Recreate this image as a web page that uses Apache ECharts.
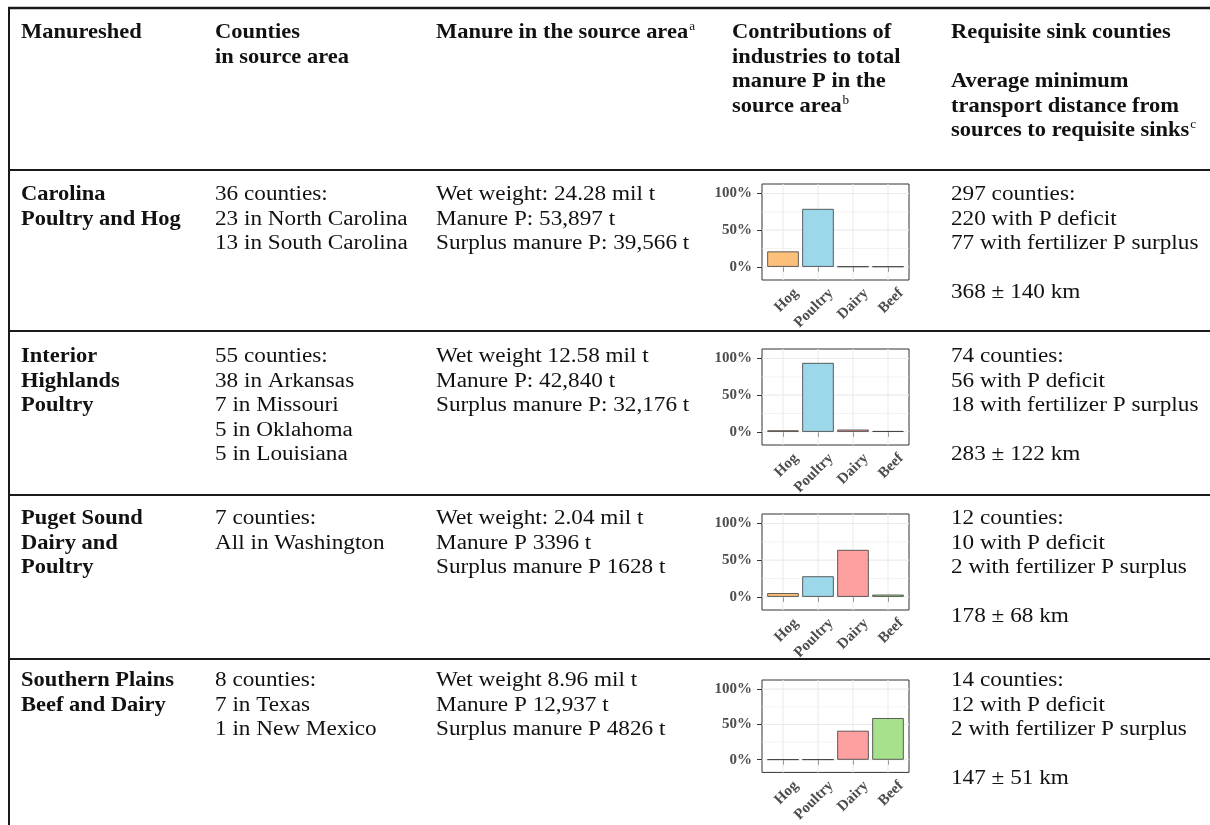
<!DOCTYPE html>
<html><head><meta charset="utf-8">
<script src="https://cdn.jsdelivr.net/npm/echarts@6/dist/echarts.min.js"></script>
<style>html,body{margin:0;padding:0;background:#fff}#c{width:1210px;height:825px}</style>
</head><body><div id="c"></div>
<script>
// ---------- data ----------
const industries = ['Hog', 'Poultry', 'Dairy', 'Beef'];
const industryColors = ['#FDC07A', '#9DD7EA', '#FFA0A0', '#A8E18C'];

const headerManureshed = ['Manureshed'];
const headerCounties = ['Counties', 'in source area'];
const headerManure = ['Manure in the source area'];
const headerContrib = ['Contributions of', 'industries to total', 'manure P in the', 'source area'];
const headerSinks = ['Requisite sink counties', '', 'Average minimum', 'transport distance from', 'sources to requisite sinks'];

const manuresheds = [
  ['Carolina', 'Poultry and Hog'],
  ['Interior', 'Highlands', 'Poultry'],
  ['Puget Sound', 'Dairy and', 'Poultry'],
  ['Southern Plains', 'Beef and Dairy']
];
const sourceCounties = [
  ['36 counties:', '23 in North Carolina', '13 in South Carolina'],
  ['55 counties:', '38 in Arkansas', '7 in Missouri', '5 in Oklahoma', '5 in Louisiana'],
  ['7 counties:', 'All in Washington'],
  ['8 counties:', '7 in Texas', '1 in New Mexico']
];
const manureInSource = [
  ['Wet weight: 24.28 mil t', 'Manure P: 53,897 t', 'Surplus manure P: 39,566 t'],
  ['Wet weight 12.58 mil t', 'Manure P: 42,840 t', 'Surplus manure P: 32,176 t'],
  ['Wet weight: 2.04 mil t', 'Manure P 3396 t', 'Surplus manure P 1628 t'],
  ['Wet weight 8.96 mil t', 'Manure P 12,937 t', 'Surplus manure P 4826 t']
];
const sinkCounties = [
  ['297 counties:', '220 with P deficit', '77 with fertilizer P surplus', '', '368 \u00b1 140 km'],
  ['74 counties:', '56 with P deficit', '18 with fertilizer P surplus', '', '283 \u00b1 122 km'],
  ['12 counties:', '10 with P deficit', '2 with fertilizer P surplus', '', '178 \u00b1 68 km'],
  ['14 counties:', '12 with P deficit', '2 with fertilizer P surplus', '', '147 \u00b1 51 km']
];
// share of total manure P (%) per manureshed row
const shareHog     = [21, 2, 5, 0.3];
const sharePoultry = [79, 94, 28, 0.3];
const shareDairy   = [0.3, 3, 64, 41];
const shareBeef    = [0.3, 1, 3, 59];
const yTickValues = [0, 50, 100];
const yGridValues = [0, 25, 50, 75, 100];

// ---------- layout ----------
const shares = [shareHog, sharePoultry, shareDairy, shareBeef];
const colX = [21, 215, 436, 732, 951];
const lineY = [8, 170, 331, 495, 659];
const firstOffset = [32, 32, 33, 31, 29];
const LH = 24.5;
const gridTops = [184, 349, 514, 680];
const X_MIN = 0.4, X_MAX = 4.6, Y_MIN = -18, Y_MAX = 113;
const labelShift = 0.37;

const mctx = document.createElement('canvas').getContext('2d');
function textW(str, size, weight) {
  mctx.font = weight + ' ' + size + 'px "Liberation Serif"';
  return mctx.measureText(str).width;
}
const graphics = [];
function addText(str, x, baseline, bold, sup) {
  const size = bold ? 21 : 20;
  const sx = bold ? 1.07 : 1.16;
  const w = bold ? 'bold' : 'normal';
  graphics.push({
    type: 'text', x: x, y: baseline - 7, scaleX: sx, silent: true,
    style: { text: str, fill: '#111', font: w + ' ' + size + 'px "Liberation Serif"', verticalAlign: 'middle', align: 'left' }
  });
  if (sup) {
    const tw = textW(str, size, w) * sx;
    graphics.push({
      type: 'text', x: x + tw + 1, y: baseline - 13, scaleX: 1.1, silent: true,
      style: { text: sup, fill: '#111', font: 'normal 12px "Liberation Serif"', verticalAlign: 'middle', align: 'left' }
    });
  }
}
function addBlock(lines, col, blockIdx, bold, sup) {
  const top = lineY[blockIdx] + firstOffset[blockIdx];
  lines.forEach((t, k) => {
    if (!t) return;
    addText(t, colX[col], top + LH * k, bold, (k === lines.length - 1) ? sup : null);
  });
}
// rules
graphics.push({ type: 'line', silent: true, shape: { x1: 8, y1: lineY[0], x2: 1210, y2: lineY[0] }, style: { stroke: '#1a1a1a', lineWidth: 2.5 } });
graphics.push({ type: 'line', silent: true, shape: { x1: 9, y1: 7, x2: 9, y2: 825 }, style: { stroke: '#1a1a1a', lineWidth: 2 } });
for (let i = 1; i < lineY.length; i++) {
  graphics.push({ type: 'line', silent: true, shape: { x1: 8, y1: lineY[i], x2: 1210, y2: lineY[i] }, style: { stroke: '#1a1a1a', lineWidth: 2 } });
}
// header
addBlock(headerManureshed, 0, 0, true);
addBlock(headerCounties, 1, 0, true);
addBlock(headerManure, 2, 0, true, 'a');
addBlock(headerContrib, 3, 0, true, 'b');
addBlock(headerSinks, 4, 0, true, 'c');
// rows
for (let r = 0; r < 4; r++) {
  addBlock(manuresheds[r], 0, r + 1, true);
  addBlock(sourceCounties[r], 1, r + 1, false);
  addBlock(manureInSource[r], 2, r + 1, false);
  addBlock(sinkCounties[r], 4, r + 1, false);
}

// ---------- mini charts ----------
const grids = [], xAxes = [], yAxes = [], series = [];
const axisFont = { color: '#4D4D4D', fontFamily: 'Liberation Serif', fontWeight: 'bold', fontSize: 15 };
const gridData = yGridValues.map(v => [v, 0]).concat(industries.map((n, i) => [i + 1, 1]));
for (let r = 0; r < 4; r++) {
  grids.push({ left: 762, top: gridTops[r], width: 147, height: 96, show: true, borderColor: '#333', borderWidth: 1, backgroundColor: '#fff' });
  xAxes.push({
    gridIndex: r, type: 'value', min: X_MIN, max: X_MAX,
    axisLine: { show: false }, splitLine: { show: false },
    axisTick: { show: true, customValues: industries.map((n, i) => i + 1), length: 5, lineStyle: { color: '#333', width: 1 } },
    axisLabel: Object.assign({
      customValues: industries.map((n, i) => i + 1 + labelShift),
      rotate: 45, margin: 11,
      formatter: v => industries[Math.round(v - labelShift) - 1] || ''
    }, axisFont)
  });
  yAxes.push({
    gridIndex: r, type: 'value', min: Y_MIN, max: Y_MAX,
    axisLine: { show: false }, splitLine: { show: false },
    axisTick: { show: true, customValues: yTickValues, length: 5, lineStyle: { color: '#333', width: 1 } },
    axisLabel: Object.assign({ customValues: yTickValues, margin: 10, formatter: v => v + '%' }, axisFont)
  });
  series.push({
    type: 'custom', xAxisIndex: r, yAxisIndex: r, z: 1, silent: true, clip: false,
    data: gridData,
    renderItem: (params, api) => {
      const v = api.value(0), vertical = api.value(1) === 1;
      const p1 = vertical ? api.coord([v, Y_MIN]) : api.coord([X_MIN, v]);
      const p2 = vertical ? api.coord([v, Y_MAX]) : api.coord([X_MAX, v]);
      return { type: 'line', shape: { x1: p1[0], y1: p1[1], x2: p2[0], y2: p2[1] },
        style: { stroke: '#EBEBEB', lineWidth: (vertical || v % 50 === 0) ? 1.1 : 0.6 } };
    }
  });
  series.push({
    type: 'bar', xAxisIndex: r, yAxisIndex: r, z: 3, barWidth: 31.5, silent: true,
    itemStyle: { borderColor: '#3a3a3a', borderWidth: 0.8 },
    data: industries.map((n, i) => ({ value: [i + 1, shares[i][r]], itemStyle: { color: industryColors[i] } }))
  });
}

const chart = echarts.init(document.getElementById('c'));
chart.setOption({
  animation: false,
  backgroundColor: '#fff',
  grid: grids, xAxis: xAxes, yAxis: yAxes, series: series,
  graphic: graphics
});
</script></body></html>
